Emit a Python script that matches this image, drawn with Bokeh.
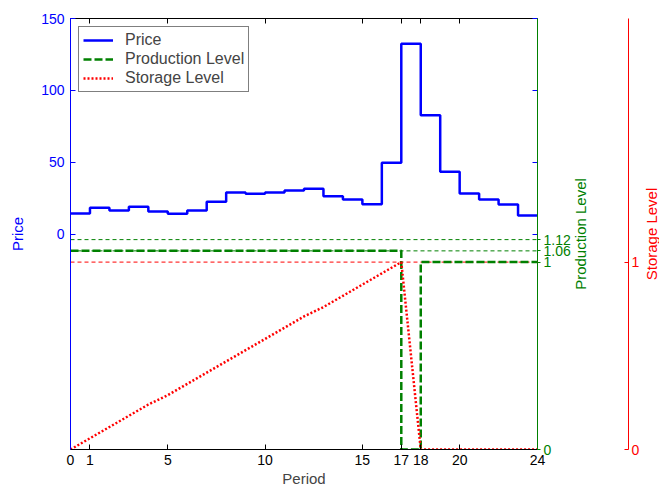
import math
from bokeh.plotting import figure
from bokeh.models import LinearAxis, Range1d, FixedTicker, Legend, LegendItem, Label, Arrow
from bokeh.embed import file_html
from bokeh.resources import INLINE

# ---- data ----
periods = [0, 1, 2, 3, 4, 5, 6, 7, 8, 9, 10, 11, 12, 13, 14, 15, 16, 17, 18, 19, 20, 21, 22, 23, 24]
price = [14.3, 18.2, 16.4, 18.9, 15.7, 14.1, 16.4, 22.4, 28.9, 28.0, 28.9, 30.3,
         31.5, 26.3, 24.0, 20.7, 49.6, 132.4, 82.7, 43.3, 28.2, 24.0, 20.5, 12.9]
production = [1.06, 1.06, 1.06, 1.06, 1.06, 1.06, 1.06, 1.06, 1.06, 1.06, 1.06, 1.06,
              1.06, 1.06, 1.06, 1.06, 1.06, 0.0, 1.0, 1.0, 1.0, 1.0, 1.0, 1.0]
storage = [0.0, 0.06, 0.12, 0.18, 0.24, 0.29, 0.35, 0.41, 0.47, 0.53, 0.59, 0.65, 0.71,
           0.76, 0.82, 0.88, 0.94, 1.0, 0.0, 0.0, 0.0, 0.0, 0.0, 0.0, 0.0]
x_ticks = [0, 1, 5, 10, 15, 17, 18, 20, 24]
price_ticks = [0, 50, 100, 150]
prod_ticks = [0, 1, 1.06, 1.12]
prod_labels = {0: "0", 1: "1", 1.06: "1.06", 1.12: "1.12"}
storage_ticks = [0, 1]
prod_refs = [1.12, 1.06]
storage_ref = 1.0

BLUE = "#0000ff"
GREEN = "#008000"
RED = "#ff0000"
FONT = "Liberation Sans"
TICK_FS = "14px"
LAB_FS = "15px"

p = figure(frame_width=467, frame_height=431,
           x_range=Range1d(0, 24), y_range=Range1d(-150, 150),
           output_backend="svg", toolbar_location=None,
           min_border_left=70, min_border_top=18, min_border_bottom=41, min_border_right=122)
p.extra_y_ranges = {"prod": Range1d(0, 2.3), "stor": Range1d(0, 2.3)}
p.grid.visible = False
p.outline_line_color = None
p.background_fill_color = "white"
p.border_fill_color = "white"

# reference lines
for v in prod_refs:
    p.line([periods[0], periods[-1]], [v, v], y_range_name="prod",
           line_color=GREEN, line_width=1, line_dash="4 3")
p.line([periods[0], periods[-1]], [storage_ref, storage_ref], y_range_name="stor",
       line_color=RED, line_width=1, line_dash="4 3")
# the storage reference continues across the margin to the storage axis
p.add_layout(Arrow(end=None, x_start=periods[-1], y_start=storage_ref,
                   x_end=28.75, y_end=storage_ref, y_range_name="stor",
                   line_color=RED, line_width=1, line_dash="4 3"), "right")

# series
r_price = p.step(periods, price + [price[-1]], mode="after",
                 line_color=BLUE, line_width=2.5)
r_prod = p.step(periods, production + [production[-1]], mode="after", y_range_name="prod",
                line_color=GREEN, line_width=2.5, line_dash="8 3")
r_stor = p.line(periods, storage, y_range_name="stor",
                line_color=RED, line_width=2.5, line_dash="2 2")

# left price axis
ax = p.yaxis[0]
ax.ticker = FixedTicker(ticks=price_ticks)
ax.axis_line_color = BLUE
ax.major_tick_line_color = BLUE
ax.major_tick_in = 5
ax.major_tick_out = 0
ax.major_label_text_color = BLUE
ax.major_label_text_font = FONT
ax.major_label_text_font_size = TICK_FS
ax.major_label_standoff = 6
ax.axis_label = "Price"
ax.axis_label_text_color = BLUE
ax.axis_label_text_font = FONT
ax.axis_label_text_font_size = LAB_FS
ax.axis_label_text_font_style = "normal"
ax.axis_label_standoff = 12

# bottom axis
bx = p.xaxis[0]
bx.ticker = FixedTicker(ticks=x_ticks)
bx.axis_line_color = "black"
bx.major_tick_line_color = "black"
bx.major_tick_in = 5
bx.major_tick_out = 0
bx.major_label_text_color = "black"
bx.major_label_text_font = FONT
bx.major_label_text_font_size = TICK_FS
bx.major_label_standoff = 5
bx.axis_label = "Period"
bx.axis_label_text_font = FONT
bx.axis_label_text_font_size = LAB_FS
bx.axis_label_text_font_style = "normal"
bx.axis_label_standoff = 2

# top axis (ticks only, labels not painted)
tx = LinearAxis(ticker=FixedTicker(ticks=x_ticks), axis_line_color="black",
                major_tick_line_color="black", major_tick_in=5, major_tick_out=0,
                major_label_text_font_size="1px", major_label_text_color=None,
                major_label_standoff=0)
p.add_layout(tx, "above")

# right price ticks (labels not painted)
rp = LinearAxis(ticker=FixedTicker(ticks=price_ticks), axis_line_color=None,
                major_tick_line_color=BLUE, major_tick_in=5, major_tick_out=0,
                major_label_text_font_size="1px", major_label_text_color=None,
                major_label_standoff=0)
p.add_layout(rp, "right")

# production axis
gx = LinearAxis(y_range_name="prod", ticker=FixedTicker(ticks=prod_ticks),
                major_label_overrides=prod_labels,
                axis_line_color=GREEN, major_tick_line_color=GREEN,
                major_tick_in=0, major_tick_out=3, major_label_standoff=3,
                major_label_text_color=GREEN, major_label_text_font=FONT,
                major_label_text_font_size=TICK_FS)
p.add_layout(gx, "right")

# spacer between the two outer axes (nothing painted)
sp = LinearAxis(y_range_name="stor", ticker=FixedTicker(ticks=[storage_ticks[0]]),
                axis_line_color=None, major_tick_line_color=None,
                major_tick_in=0, major_tick_out=55, major_label_standoff=0,
                major_label_text_font_size="1px", major_label_text_color=None)
p.add_layout(sp, "right")

# storage axis
rx = LinearAxis(y_range_name="stor", ticker=FixedTicker(ticks=storage_ticks),
                axis_line_color=RED, major_tick_line_color=RED,
                major_tick_in=4, major_tick_out=0, major_label_standoff=3,
                major_label_text_color=RED, major_label_text_font=FONT,
                major_label_text_font_size=TICK_FS)
p.add_layout(rx, "right")

# right-hand axis titles, reading bottom-to-top like the left one
for txt, col, xpos in [("Production Level", GREEN, 26.2), ("Storage Level", RED, 29.85)]:
    p.add_layout(Label(x=xpos, y=0, text=txt, angle=math.pi / 2, text_align="center",
                       text_baseline="middle", text_color=col, text_font=FONT,
                       text_font_size=LAB_FS), "right")

legend = Legend(items=[LegendItem(label="Price", renderers=[r_price]),
                       LegendItem(label="Production Level", renderers=[r_prod]),
                       LegendItem(label="Storage Level", renderers=[r_stor])],
                location="top_left", margin=8, padding=4, spacing=1,
                label_height=18, glyph_height=18, glyph_width=30, label_standoff=12,
                label_text_font=FONT, label_text_font_size="16px",
                border_line_color="black", border_line_width=1,
                background_fill_color="white", background_fill_alpha=1.0)
p.add_layout(legend)

open("out.html", "w").write(file_html(p, INLINE))
